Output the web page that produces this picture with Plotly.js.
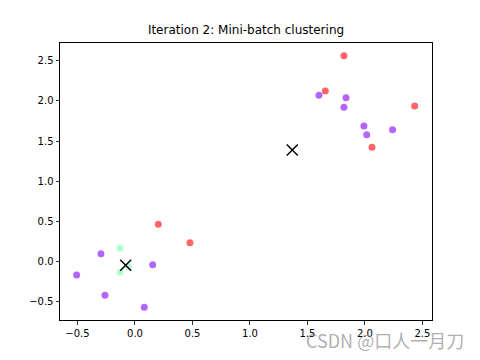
<!DOCTYPE html>
<html><head><meta charset="utf-8">
<script src="https://cdn.plot.ly/plotly-3.0.1.min.js"></script>
<style>body{margin:0}#c{width:480px;height:360px}</style>
</head><body><div id="c"></div>
<script>
// cluster 0 (purple)
const purpleX = [-0.507, -0.296, -0.261, 0.154, 0.081, 1.600, 1.835, 1.817, 1.991, 2.015, 2.240];
const purpleY = [-0.165, 0.100, -0.418, -0.037, -0.567, 2.070, 2.040, 1.920, 1.688, 1.580, 1.642];
// cluster 1 (green)
const greenX = [-0.130, -0.130, -0.058];
const greenY = [0.166, -0.132, -0.060];
// cluster 2 (red)
const redX = [0.203, 0.478, 1.817, 1.655, 2.432, 2.061];
const redY = [0.465, 0.236, 2.562, 2.123, 1.937, 1.423];
// centroids
const centX = [-0.081, 1.368];
const centY = [-0.045, 1.389];

const titleText = "Iteration 2: Mini-batch clustering";
const xTicks = [-0.5, 0.0, 0.5, 1.0, 1.5, 2.0, 2.5];
const yTicks = [-0.5, 0.0, 0.5, 1.0, 1.5, 2.0, 2.5];

function pts(x, y, color) {
  return {x: x, y: y, type: 'scatter', mode: 'markers',
    marker: {size: 7, color: color, opacity: 0.6, line: {width: 0}}, hoverinfo: 'none'};
}
const data = [
  pts(purpleX, purpleY, '#8000ff'),
  pts(greenX, greenY, '#80ffb4'),
  pts(redX, redY, '#ff0000'),
  {x: centX, y: centY, type: 'scatter', mode: 'markers',
   marker: {symbol: 'x-thin-open', size: 11, color: '#000', line: {width: 1.5, color: '#000'}}}
];
const axisCommon = {
  showgrid: false, zeroline: false, showline: true, mirror: true,
  linecolor: '#000', linewidth: 1, ticks: 'outside', ticklen: 3.5, tickwidth: 0.8,
  tickcolor: '#000', tickfont: {family: 'DejaVu Sans', size: 10, color: '#000'},
  tickformat: '.1f', tickmode: 'array'
};
const layout = {
  width: 480, height: 360, showlegend: false,
  margin: {l: 60, r: 48, t: 43, b: 40},
  paper_bgcolor: '#fff', plot_bgcolor: '#fff',
  title: {text: titleText, font: {family: 'DejaVu Sans', size: 12, color: '#000'},
          x: 0.5125, xanchor: 'center', y: 0.905, yanchor: 'bottom'},
  xaxis: Object.assign({}, axisCommon, {range: [-0.652, 2.583], tickvals: xTicks}),
  yaxis: Object.assign({}, axisCommon, {range: [-0.725, 2.72], tickvals: yTicks}),
  annotations: [{
    text: 'CSDN @口人一月刀', xref: 'paper', yref: 'paper', x: 1.092, y: -0.072,
    xanchor: 'right', yanchor: 'middle', showarrow: false,
    font: {family: 'Noto Sans CJK SC', size: 18, color: 'rgba(140,140,140,0.7)'}
  }]
};
Plotly.newPlot('c', data, layout, {staticPlot: true});
</script></body></html>
